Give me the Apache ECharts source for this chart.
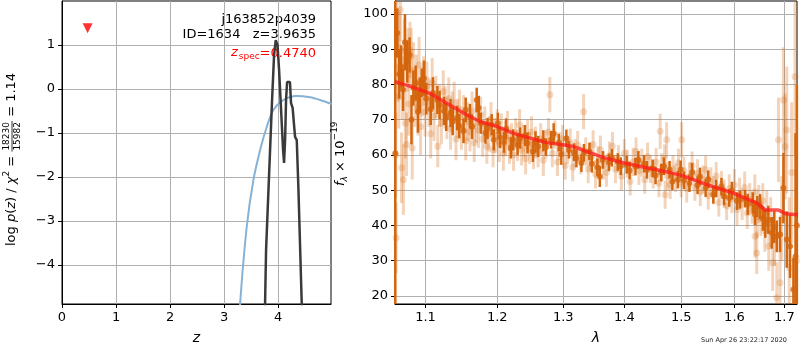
<!DOCTYPE html>
<html><head><meta charset="utf-8">
<script src="https://cdn.jsdelivr.net/npm/echarts@6/dist/echarts.min.js"></script>
<style>html,body{margin:0;padding:0;background:#fff}#c{width:800px;height:350px}</style>
</head><body><div id="c"></div>
<script>
// ---------- tick labels ----------
const zTicks = [0, 1, 2, 3, 4];
const pzTicks = [-4, -3, -2, -1, 0, 1];
const lamTicks = [1.1, 1.2, 1.3, 1.4, 1.5, 1.6, 1.7];
const fluxTicks = [20, 30, 40, 50, 60, 70, 80, 90, 100];

// ---------- left panel: p(z) and prior ----------
const pzZ   = [3.70, 3.759, 3.778, 3.815, 3.852, 3.889, 3.926, 3.957, 3.99, 4.019, 4.056, 4.093, 4.111, 4.13, 4.148, 4.167, 4.194, 4.22, 4.24, 4.27, 4.296, 4.315, 4.346, 4.376, 4.407, 4.439, 4.46];
const pzLog = [-6.6, -4.91, -3.66, -2.52, -1.39, -0.25, 0.77, 1.11, 1.0, 0.43, -0.48, -1.39, -1.68, -1.16, -0.25, 0.16, 0.2, 0.16, -0.32, -0.43, -0.82, -1.09, -1.16, -2.23, -3.55, -4.91, -5.93];
const priorZ   = [3.25, 3.296, 3.42, 3.543, 3.667, 3.791, 3.913, 4.098, 4.346, 4.593, 4.778, 4.994];
const priorLog = [-6.2, -4.91, -3.13, -2.07, -1.39, -0.857, -0.477, -0.25, -0.159, -0.189, -0.25, -0.341];
const zSpec = [0.474];
const zSpecMarkY = [1.38];

// ---------- right panel: model ----------
const modelLam  = [1.0601, 1.0839, 1.1059, 1.1287, 1.1563, 1.1751, 1.1991, 1.2233, 1.2484, 1.2739, 1.2999, 1.3157, 1.3373, 1.3645, 1.3981, 1.4323, 1.4795, 1.5008, 1.5470, 1.5977, 1.6438, 1.6605, 1.6867, 1.7032, 1.7282];
const modelFlux = [80.8, 79.2, 77.5, 74.7, 71.4, 69.5, 68.1, 66.2, 64.8, 63.5, 62.9, 62.4, 61.0, 59.3, 57.8, 56.6, 55.0, 54.2, 51.6, 49.2, 46.4, 44.4, 44.4, 43.3, 43.0];

// ---------- right panel: dark points ----------
const darkLam = [1.0605,1.0630,1.0655,1.0680,1.0705,1.0730,1.0760,1.0790,1.0815,1.0840,1.0870,1.0900,1.0925,1.0950,1.0980,
1.1010,1.1070,1.1100,1.1160,1.1190,1.1250,1.1280,1.1340,1.1370,1.1430,1.1460,1.1520,1.1550,1.1610,1.1640,1.1705,1.1735,
1.1765,1.1830,1.1860,1.1920,1.1950,1.2010,1.2040,1.2100,1.2130,1.2200,1.2233,1.2300,1.2340,1.2410,1.2450,1.2530,1.2570,
1.2610,1.2690,1.2730,1.2810,1.2850,1.2930,1.2970,1.3050,1.3090,1.3170,1.3210,1.3290,1.3330,1.3420,1.3460,1.3550,1.3590,
1.3640,1.3740,1.3790,1.3890,1.3940,1.4040,1.4090,1.4190,1.4240,1.4340,1.4390,1.4490,1.4540,1.4640,1.4690,1.4790,1.4840,1.4940,1.4990,
1.5050,1.5150,1.5200,1.5300,1.5345,1.5450,1.5500,1.5595,1.5650,1.5750,1.5800,1.5900,1.5950,1.6050,1.6108,1.6210,1.6260,1.6360,1.6405,1.6450,
1.6505,1.6560,1.6610,1.6671,1.6740,1.6790,1.6843,1.6910,1.6979,1.7048,1.7117,1.7186,1.7230,1.7258];
const darkFlux = [60.5,94.6,83.0,85.1,78.5,92.0,86.5,88.4,70.0,79.0,80.4,72.3,77.0,80.5,81.8,
76.0,73.0,77.6,75.6,74.2,72.5,70.8,71.9,69.6,70.5,68.2,66.9,72.8,71.0,68.0,75.6,73.3,
69.0,66.2,67.5,68.6,64.3,69.0,65.0,63.6,67.4,62.0,64.3,63.0,64.8,65.5,63.4,61.0,63.7,
62.4,64.0,62.2,64.3,66.0,63.5,60.2,64.7,61.5,60.8,59.0,57.7,60.6,61.0,57.5,56.5,53.9,
58.6,57.9,59.2,58.0,56.8,57.2,55.6,56.7,58.6,57.5,55.8,56.2,54.2,55.0,56.8,55.8,52.5,53.0,55.9,
52.8,52.0,55.2,51.4,53.9,50.6,53.1,48.7,50.5,51.0,48.2,47.8,49.9,46.9,47.3,47.6,46.0,46.4,43.1,45.4,
45.4,42.0,40.5,41.6,37.9,39.5,36.9,37.4,50.6,36.0,34.1,21.8,31.2,40.0];
const darkErr = [44,7,7,6,6,8,6,5,7,5,5,6,5,4,5,
4.5,4.5,4.5,4,4,4,4,4,4,3.5,3.5,3.5,3.5,3.5,3.5,3.5,3.5,
3,3,3,3,3,3,3,3,3,3,3,3,3,3,3,3,3,
3,3,2.5,2.5,3,2.5,3,2.5,2.5,2.5,2.5,2.5,2.5,2.5,2.5,2.5,3,
2.5,2.5,2.5,2.5,2.5,2.5,2.5,2.5,2.5,2.5,2.5,2.5,2.5,2.5,2.5,2.5,2.5,2.5,2.5,
2.5,2.5,2.5,2.5,2.5,2.5,2.5,2.5,2.5,2.5,2.5,2.5,2.5,2.5,2.5,2.5,3,3,3,3,
3.5,3.5,4,4,4.5,4.5,4.5,5,10,8,9,9,35,40];

// ---------- right panel: light points ----------
const lightLam = [1.0610,1.0615,1.0625,1.0640,1.0650,1.0660,1.0670,1.0685,1.0695,1.0710,1.0720,1.0735,1.0750,1.0765,1.0780,1.0795,1.0810,1.0825,1.0840,1.0860,1.0880,1.0900,1.0915,1.0935,1.0955,1.0975,1.0995,
1.1020,1.1045,1.1070,1.1090,1.1115,1.1140,1.1165,1.1190,1.1215,1.1240,1.1265,1.1290,1.1315,1.1340,1.1365,1.1390,1.1415,1.1440,1.1465,1.1490,1.1520,1.1550,1.1580,1.1610,1.1640,1.1670,1.1700,
1.1730,1.1760,1.1790,1.1820,1.1850,1.1880,1.1910,1.1940,1.1970,1.2000,1.2030,1.2060,1.2090,1.2120,1.2150,1.2180,1.2210,1.2240,1.2270,1.2300,1.2330,1.2360,1.2390,1.2420,1.2450,1.2480,1.2510,1.2540,1.2570,
1.2610,1.2650,1.2690,1.2730,1.2770,1.2791,1.2830,1.2870,1.2910,1.2950,1.2990,1.3030,1.3070,1.3110,1.3150,1.3190,1.3230,1.3280,1.3325,1.3360,1.3400,1.3440,1.3480,1.3520,1.3560,1.3600,
1.3650,1.3700,1.3750,1.3800,1.3850,1.3900,1.3950,1.4000,1.4050,1.4100,1.4150,1.4200,1.4250,1.4300,1.4350,1.4400,1.4450,1.4500,1.4550,1.4600,1.4622,1.4650,1.4700,1.4710,1.4737,1.4750,1.4800,1.4850,1.4900,1.4950,
1.5000,1.5008,1.5050,1.5100,1.5150,1.5200,1.5250,1.5300,1.5350,1.5400,1.5450,1.5500,1.5550,1.5600,1.5650,1.5700,1.5750,1.5800,1.5850,1.5900,1.5950,1.6000,1.6050,1.6100,1.6150,1.6200,1.6250,1.6300,1.6350,1.6400,1.6405,1.6439,1.6450,
1.6480,1.6520,1.6560,1.6600,1.6640,1.6680,1.6720,1.6760,1.6800,1.6843,1.6877,1.6910,1.6945,1.6979,1.7014,1.7048,1.7100,1.7150,1.7220,1.7250];
const lightFlux = [60.0,36.5,100.5,85.0,76.5,90.5,101.2,56.4,79.0,53.0,89.5,69.0,63.0,87.0,74.5,89.8,88.0,62.0,84.0,76.0,80.5,73.5,85.5,68.0,78.0,81.0,72.2,
79.5,75.0,66.0,80.5,71.0,76.5,62.5,74.0,69.0,78.0,73.5,70.5,76.0,67.5,72.0,74.8,64.5,70.5,73.0,67.0,71.5,64.0,69.5,66.5,72.5,63.5,69.0,
67.0,71.5,64.5,68.8,62.5,66.0,70.0,61.5,65.5,68.0,63.0,66.8,60.5,64.8,67.5,62.0,64.5,60.0,66.0,62.8,68.5,61.5,64.0,59.0,65.5,62.0,66.5,60.5,63.5,
61.0,64.5,58.5,63.0,66.5,77.1,60.5,65.8,58.0,62.5,64.5,57.0,61.5,63.5,56.5,60.5,62.8,58.5,72.3,61.0,56.0,59.5,63.0,54.5,58.5,61.5,
57.0,55.0,59.8,62.5,56.0,58.8,54.0,60.5,57.5,52.5,58.0,61.0,55.5,57.8,53.0,59.5,56.0,54.5,58.0,52.0,66.7,56.5,59.0,48.7,64.3,54.0,51.5,56.0,53.5,57.8,
52.0,64.3,55.5,50.5,54.0,57.0,51.0,54.8,49.5,53.0,55.8,48.5,52.5,50.0,54.0,46.5,51.5,49.0,45.5,50.5,47.5,51.5,44.5,49.0,46.0,50.8,43.5,47.5,45.0,49.5,36.9,32.2,41.5,
46.5,42.0,47.0,38.5,44.0,34.1,41.0,29.4,36.5,19.5,64.3,23.7,42.0,75.6,62.4,67.1,28.0,55.0,82.2,30.0];
const lightErr = [12,10,10,10,9,10,9,10,9,10,9,10,9,9,9,8,8,9,8,8,8,8,8,8,7,7,7,
7,7,7,7,7,6,6,6,6,6,6,6,6,6,6,6,6,5.5,5.5,5.5,5.5,5.5,5.5,5.5,5.5,5.5,5.5,
5,5,5,5,5,5,5,5,5,5,5,5,5,5,5,4.5,4.5,4.5,4.5,4.5,4.5,4.5,4.5,4.5,4.5,4.5,4.5,4.5,4.5,
4.5,4.5,4.5,4,4,5,4,4,4,4,4,4,4,4,4,4,4,4,5,4,4,4,4,4,4,4,
4,4,4,4,4,4,4,4,4,4,4,4,4,4,4,4,4,4,4,4,5,4,4,4,5,4,4,4,4,4,
4,5,4,4,4,4,4,4,4,4,4,4,4,4,4,4,4,4,4,4,4,4.5,4.5,4.5,4.5,4.5,4.5,4.5,4.5,5,6,6,5,
5,5,5,6,6,7,7,8,8,10,12,12,12,15,15,18,20,20,22,25];

// ---------- build ----------
const FONT = 'DejaVu Sans';
const DARK = '#d4650c';
const LIGHT = 'rgba(212,101,12,0.28)';
const zip3 = (a, b, c) => a.map((v, i) => c ? [v, b[i], c[i]] : [v, b[i]]);

const mctx = document.createElement('canvas').getContext('2d');
function tw(t, f) { mctx.font = f; return mctx.measureText(t).width; }

function errBars(color, width) {
  return function (params, api) {
    const x = api.value(0), y = api.value(1), e = api.value(2);
    const p1 = api.coord([x, y + e]);
    const p2 = api.coord([x, y - e]);
    const cs = params.coordSys;
    const clamp = v => Math.max(cs.y, Math.min(cs.y + cs.height, v));
    return { type: 'line', shape: { x1: p1[0], y1: clamp(p1[1]), x2: p2[0], y2: clamp(p2[1]) },
             style: { stroke: color, lineWidth: width } };
  };
}

function axisCommon(ticks, fmt) {
  return {
    axisLine: { show: true, onZero: false, lineStyle: { color: '#000', width: 1 } },
    axisTick: { show: true, inside: false, length: 4, lineStyle: { color: '#000' }, customValues: ticks },
    axisLabel: { customValues: ticks, color: '#000', fontSize: 13, fontFamily: FONT, margin: 7, formatter: fmt },
    splitLine: { show: true, lineStyle: { color: '#b0b0b0', width: 1 } }
  };
}
const minus = v => (v < 0 ? '\u2212' + (-v) : String(v));

// rotated label builder
function rotLabel(x, y, pieces) {
  let pos = 0;
  const children = [];
  pieces.forEach(p => {
    if (p.frac) {
      const f = p.font;
      const w = Math.max(tw(p.num, f), tw(p.den, f)) + 2;
      children.push({ type: 'text', x: pos + w / 2, y: -5.5, style: { text: p.num, font: f, fill: '#000', align: 'center', verticalAlign: 'middle' } });
      children.push({ type: 'text', x: pos + w / 2, y: 5.5, style: { text: p.den, font: f, fill: '#000', align: 'center', verticalAlign: 'middle' } });
      children.push({ type: 'line', shape: { x1: pos, y1: 0, x2: pos + w, y2: 0 }, style: { stroke: '#000', lineWidth: 0.8 } });
      pos += w;
    } else {
      children.push({ type: 'text', x: pos, y: p.dy || 0, style: { text: p.t, font: p.font, fill: '#000', align: 'left', verticalAlign: 'middle' } });
      pos += tw(p.t, p.font);
    }
  });
  return { type: 'group', x: x, y: y, rotation: Math.PI / 2, children: children };
}

const F13 = '13px ' + FONT, I13 = 'italic 13px ' + FONT, F9 = '9px ' + FONT, I9 = 'italic 9px ' + FONT;

const leftLabel = rotLabel(12, 246, [
  { t: 'log ', font: F13 }, { t: 'p', font: I13 }, { t: '(', font: F13 }, { t: 'z', font: I13 },
  { t: ') / ', font: F13 }, { t: '\u03c7', font: I13 }, { t: '2', font: F9, dy: -5 },
  { t: ' = ', font: F13 }, { frac: true, num: '18230', den: '15982', font: F9 }, { t: ' = 1.14', font: F13 }
]);
const rightLabel = rotLabel(341, 186, [
  { t: 'f', font: I13 }, { t: '\u03bb', font: I9, dy: 4 }, { t: ' \u00d7 10', font: F13 }, { t: '\u221219', font: F9, dy: -6 }
]);

const specW = tw('=0.4740', F13), specW2 = tw('spec', F9);

const chart = echarts.init(document.getElementById('c'), null, { renderer: 'canvas' });
chart.setOption({
  animation: false,
  backgroundColor: '#fff',
  grid: [
    { left: 62, right: 469, top: 1, bottom: 46, show: true, borderColor: '#000', borderWidth: 1, backgroundColor: 'transparent' },
    { left: 395, right: 3, top: 1, bottom: 46, show: true, borderColor: '#000', borderWidth: 1, backgroundColor: 'transparent' }
  ],
  xAxis: [
    Object.assign({ type: 'value', gridIndex: 0, min: 0, max: 4.98, name: 'z', nameLocation: 'middle', nameGap: 27,
      nameTextStyle: { fontStyle: 'italic', fontSize: 14, fontFamily: FONT, color: '#000' } }, axisCommon(zTicks, v => String(v))),
    Object.assign({ type: 'log', logBase: 10, gridIndex: 1, min: 1.0601, max: 1.7261, name: '\u03bb', nameLocation: 'middle', nameGap: 27,
      nameTextStyle: { fontStyle: 'italic', fontSize: 14, fontFamily: FONT, color: '#000' } }, axisCommon(lamTicks, v => Number(v).toFixed(1)))
  ],
  yAxis: [
    Object.assign({ type: 'value', gridIndex: 0, min: -4.886, max: 2.0 }, axisCommon(pzTicks, minus)),
    Object.assign({ type: 'value', gridIndex: 1, min: 17.7, max: 103.7 }, axisCommon(fluxTicks, v => String(v)))
  ],
  series: [
    { type: 'line', xAxisIndex: 0, yAxisIndex: 0, data: zip3(priorZ, priorLog), showSymbol: false, smooth: 0.3,
      lineStyle: { color: '#86b2d6', width: 2 }, clip: true, z: 3 },
    { type: 'line', xAxisIndex: 0, yAxisIndex: 0, data: zip3(pzZ, pzLog), showSymbol: false,
      lineStyle: { color: '#3a3a3a', width: 2.5 }, clip: true, z: 4 },
    { type: 'scatter', xAxisIndex: 0, yAxisIndex: 0, data: zip3(zSpec, zSpecMarkY), symbol: 'triangle', symbolRotate: 180, symbolSize: 10,
      itemStyle: { color: '#ff0000' }, z: 5 },

    { type: 'custom', xAxisIndex: 1, yAxisIndex: 1, data: zip3(lightLam, lightFlux, lightErr), encode: { x: 0, y: 1 },
      renderItem: errBars(LIGHT, 3), z: 2 },
    { type: 'scatter', xAxisIndex: 1, yAxisIndex: 1, data: zip3(lightLam, lightFlux), symbolSize: 7,
      itemStyle: { color: LIGHT }, z: 2 },
    { type: 'custom', xAxisIndex: 1, yAxisIndex: 1, data: zip3(darkLam, darkFlux, darkErr), encode: { x: 0, y: 1 },
      renderItem: errBars(DARK, 2.5), z: 3 },
    { type: 'scatter', xAxisIndex: 1, yAxisIndex: 1, data: zip3(darkLam, darkFlux), symbolSize: 6,
      itemStyle: { color: DARK }, z: 3 },
    { type: 'line', xAxisIndex: 1, yAxisIndex: 1, data: zip3(modelLam, modelFlux), showSymbol: false,
      lineStyle: { color: 'rgba(255,25,25,0.75)', width: 3.5 }, clip: true, z: 4 }
  ],
  graphic: [
    { type: 'text', x: 316, y: 20, style: { text: 'j163852p4039', font: F13, fill: '#000', align: 'right', verticalAlign: 'middle' } },
    { type: 'text', x: 316, y: 35, style: { text: 'ID=1634   z=3.9635', font: F13, fill: '#000', align: 'right', verticalAlign: 'middle' } },
    { type: 'text', x: 316, y: 54, style: { text: '=0.4740', font: F13, fill: '#ff0000', align: 'right', verticalAlign: 'middle' } },
    { type: 'text', x: 316 - specW, y: 57, style: { text: 'spec', font: F9, fill: '#ff0000', align: 'right', verticalAlign: 'middle' } },
    { type: 'text', x: 316 - specW - specW2 - 1, y: 53, style: { text: 'z', font: I13, fill: '#ff0000', align: 'right', verticalAlign: 'middle' } },
    leftLabel,
    rightLabel,
    { type: 'text', x: 787, y: 340, style: { text: 'Sun Apr 26 23:22:17 2020', font: '6.5px ' + FONT, fill: '#222', align: 'right', verticalAlign: 'middle' } }
  ]
});
</script>
</body></html>
